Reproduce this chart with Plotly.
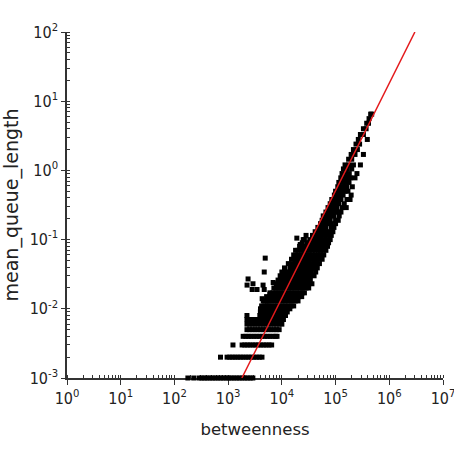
import plotly.graph_objects as go

# ---- data (betweenness vs mean queue length) ----
# quantised low bands (queue lengths are multiples of 0.001)
band_001_x = [178, 229, 288, 324, 363, 407, 457, 513, 575, 646, 724, 813, 912, 1023,
              1148, 1288, 1445, 1622, 1820, 2042, 2291, 2570, 2884]
band_002_x = [720, 955, 1072, 1202, 1349, 1514, 1698, 1905, 2138, 2399, 2692, 3020,
              3388, 3802, 4266]
band_003_x = [1230, 1820, 2042, 2291, 2570, 2884, 3236, 3631, 4074, 4571, 5129, 5754, 6457]
band_004_x = [1905, 2138, 2399, 2692, 3020, 3388, 3802, 4266, 4786, 5370, 6026, 6761,
              7586, 8128]
band_005_x = [2240, 2510, 2820, 3160, 3550, 3980, 4470, 5010, 5620, 6310, 7080, 7940, 8910]
band_006_x = [2240, 2510, 2820, 3160, 3550, 3980, 4470, 5010, 5620, 6310, 7080, 7940,
              8910, 10000]
band_007_x = [2240, 2510, 2820, 3160, 3550, 3980, 4470, 5010, 5620, 6310, 7080, 7940,
              8910, 10000, 10700]
band_008_x = [2240, 3890, 4370, 4900, 5500, 6170, 6920, 7760, 8710, 9770, 10960, 11700]
band_009_x = [3980, 4470, 5010, 5620, 6310, 7080, 7940, 8910, 10000, 11220, 12600]

# main cloud rows: (queue length, list of betweenness values)
cloud_y = [0.010, 0.011, 0.013, 0.015, 0.017, 0.020, 0.023, 0.026, 0.030, 0.034,
           0.039, 0.045, 0.052, 0.060, 0.070, 0.080, 0.090, 0.100, 0.115, 0.130,
           0.150, 0.170, 0.190, 0.220, 0.250, 0.290, 0.330, 0.380, 0.440, 0.500,
           0.580, 0.670, 0.780, 0.900, 1.05, 1.20, 1.45, 1.70, 2.00, 2.40, 2.80,
           3.30, 4.00, 4.80, 5.60, 6.50]
cloud_x = [
    [4000, 4500, 5000, 5600, 6300, 7100, 7900, 8900, 10000, 11200, 12600, 14100],
    [4200, 4700, 5300, 5900, 6600, 7400, 8300, 9300, 10500, 11700, 13200, 14800, 16600],
    [4500, 5000, 5600, 6300, 7100, 8000, 8900, 10000, 11200, 12600, 14100, 15800, 17800, 20000],
    [5200, 5900, 6600, 7400, 8300, 9300, 10500, 11700, 13200, 14800, 16600, 18600, 20900, 23400],
    [6000, 6800, 7600, 8500, 9500, 10700, 12000, 13500, 15100, 17000, 19000, 21400, 24000, 26300],
    [7100, 7900, 8900, 10000, 11200, 12600, 14100, 15800, 17800, 20000, 22400, 25100, 28200, 31600],
    [7900, 8900, 10000, 11200, 12600, 14100, 15800, 17800, 20000, 22400, 25100, 28200, 31600, 36300],
    [8500, 9500, 10700, 12000, 13500, 15100, 17000, 19000, 21400, 24000, 26900, 30200, 33900],
    [9300, 10500, 11700, 13200, 14800, 16600, 18600, 20900, 23400, 26300, 29500, 33100, 39800],
    [10000, 11200, 12600, 14100, 15800, 17800, 20000, 22400, 25100, 28200, 31600, 35500, 42700],
    [11200, 14100, 15800, 17800, 20000, 22400, 25100, 28200, 31600, 35500, 39800, 45700],
    [13200, 15800, 17800, 20000, 22400, 25100, 28200, 31600, 35500, 39800, 44700, 50100],
    [15100, 17800, 20000, 22400, 25100, 28200, 31600, 35500, 39800, 44700, 50100, 56200],
    [16600, 20000, 22400, 25100, 28200, 31600, 35500, 41700, 47900, 52500, 60300],
    [20000, 23400, 26300, 29500, 33100, 37200, 41700, 46800, 52500, 58900, 66100],
    [21400, 26300, 29500, 33100, 37200, 41700, 46800, 52500, 60300, 70800],
    [24000, 29500, 33100, 37200, 41700, 46800, 52500, 58900, 66100, 74100],
    [26300, 33100, 37200, 41700, 46800, 52500, 58900, 66100, 79400],
    [28200, 37200, 41700, 46800, 52500, 61700, 70800, 83200],
    [41700, 46800, 52500, 58900, 66100, 74100, 89100],
    [46800, 52500, 58900, 66100, 83200, 93300],
    [52500, 58900, 66100, 74100, 83200, 100000],
    [56200, 63100, 70800, 79400, 100000, 112000],
    [58900, 66100, 74100, 83200, 93300, 117000],
    [66100, 74100, 89100, 100000, 112000, 126000],
    [72400, 83200, 93300, 105000, 132000, 158000],
    [79400, 91200, 102000, 115000, 145000],
    [85000, 100000, 112000, 126000, 163000, 186000],
    [95000, 110000, 123000, 138000, 195000],
    [100000, 120000, 135000, 150000, 170000],
    [110000, 128000, 145000, 162000, 205000],
    [115000, 135000, 155000, 178000],
    [125000, 145000, 165000, 190000, 230000],
    [132000, 155000, 180000, 250000],
    [140000, 165000, 200000],
    [150000, 175000, 215000, 290000],
    [175000, 200000],
    [195000, 230000, 330000],
    [215000, 255000],
    [240000, 280000],
    [265000, 390000],
    [290000, 330000],
    [330000, 370000],
    [380000, 410000],
    [420000],
    [450000, 470000],
]

# scattered outliers above the low bands
outlier_x = [4900, 4700, 2350, 2900, 2250, 2800, 3450, 4470, 4700, 6900, 6000, 4300,
             5300, 19000, 18000, 22000, 25000]
outlier_y = [0.054, 0.034, 0.027, 0.023, 0.022, 0.019, 0.019, 0.022, 0.019, 0.024,
             0.016, 0.014, 0.013, 0.105, 0.070, 0.085, 0.100]

# fitted power-law line
fit_x = [1800, 3000000]
fit_y = [0.001, 100]

x_tick_vals = [1, 10, 100, 1000, 10000, 100000, 1000000, 10000000]
x_tick_text = ["10<sup>0</sup>", "10<sup>1</sup>", "10<sup>2</sup>", "10<sup>3</sup>",
               "10<sup>4</sup>", "10<sup>5</sup>", "10<sup>6</sup>", "10<sup>7</sup>"]
y_tick_vals = [0.001, 0.01, 0.1, 1, 10, 100]
y_tick_text = ["10<sup>-3</sup>", "10<sup>-2</sup>", "10<sup>-1</sup>", "10<sup>0</sup>",
               "10<sup>1</sup>", "10<sup>2</sup>"]

# ---- assemble point lists ----
px, py = [], []
for yv, xs in [(0.001, band_001_x), (0.002, band_002_x), (0.003, band_003_x),
               (0.004, band_004_x), (0.005, band_005_x), (0.006, band_006_x),
               (0.007, band_007_x), (0.008, band_008_x), (0.009, band_009_x)]:
    px += xs
    py += [yv] * len(xs)
for yv, xs in zip(cloud_y, cloud_x):
    px += xs
    py += [yv] * len(xs)
px += outlier_x
py += outlier_y

fig = go.Figure()
fig.add_trace(go.Scatter(x=px, y=py, mode="markers",
                         marker=dict(symbol="square", size=5, color="black",
                                     line=dict(width=0)),
                         showlegend=False, cliponaxis=False))
fig.add_trace(go.Scatter(x=fit_x, y=fit_y, mode="lines",
                         line=dict(color="#e41a1c", width=1.5), showlegend=False))

tick_font = dict(family="DejaVu Sans Condensed, Liberation Sans", size=16,
                 color="#222")
title_font = dict(family="DejaVu Sans, Arial", color="#222")

fig.update_xaxes(type="log", range=[0, 7], showgrid=False, zeroline=False,
                 showline=True, linecolor="#333", linewidth=1.5, automargin=False,
                 layer="below traces",
                 ticks="outside", ticklen=5, tickwidth=1.2, tickcolor="#333",
                 tickvals=x_tick_vals, ticktext=x_tick_text, tickfont=tick_font,
                 ticklabeloverflow="allow",
                 minor=dict(ticks="inside", ticklen=3, tickwidth=1, tickcolor="#333",
                            dtick="D1", showgrid=False),
                 title=dict(text="betweenness", font=dict(size=16.5, **title_font),
                            standoff=16))
fig.update_yaxes(type="log", range=[-3, 2], showgrid=False, zeroline=False,
                 showline=True, linecolor="#333", linewidth=1.5, automargin=False,
                 layer="below traces",
                 ticks="outside", ticklen=4, tickwidth=1.2, tickcolor="#333",
                 tickvals=y_tick_vals, ticktext=y_tick_text, tickfont=tick_font,
                 minor=dict(ticks="inside", ticklen=3, tickwidth=1, tickcolor="#333",
                            dtick="D1", showgrid=False),
                 title=dict(text="mean_queue_length", font=dict(size=19, **title_font),
                            standoff=6))
fig.update_layout(width=454, height=454, margin=dict(l=67, r=11, t=32, b=76),
                  plot_bgcolor="white", paper_bgcolor="white")

fig.write_html("out.html")
